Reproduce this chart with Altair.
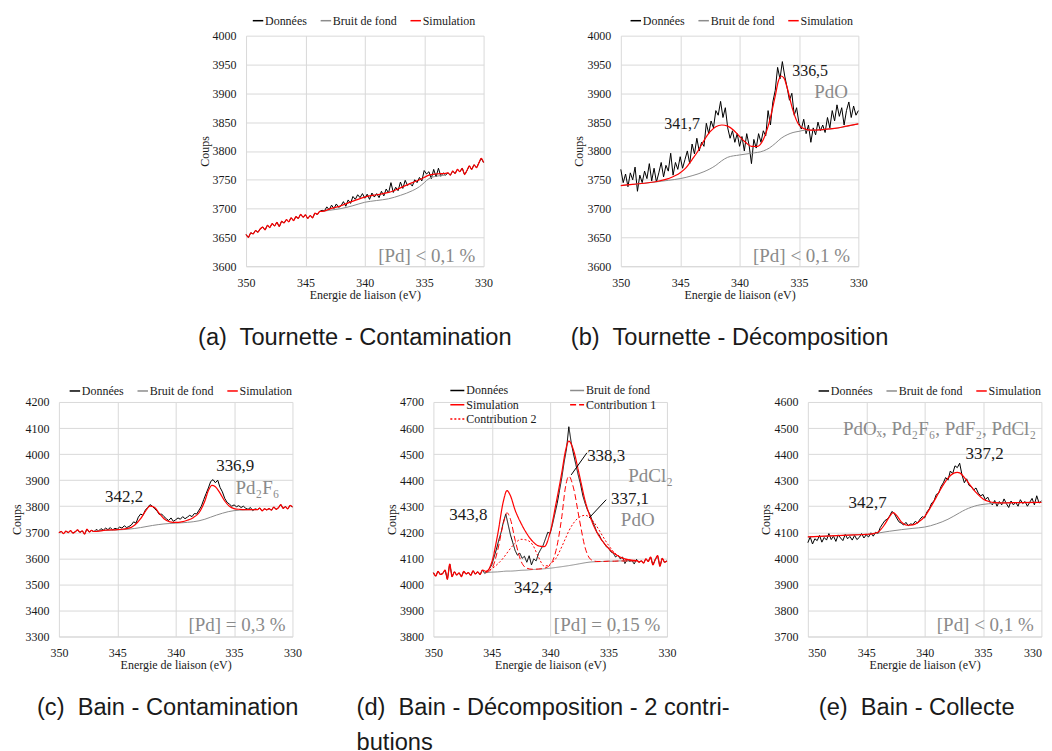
import altair as alt
import pandas as pd

SERIF = "Liberation Serif"
SANS = "Liberation Sans"
INK = "#1a1a1a"
GREY_TEXT = "#8a8a8a"
GRID = "#d9d9d9"

SERIES = ["Données", "Bruit de fond", "Simulation"]
SERIES_COLORS = ["#000000", "#8c8c8c", "#ff0000"]
SERIES_D = ["Données", "Bruit de fond", "Simulation", "Contribution 1", "Contribution 2"]
SERIES_D_COLORS = ["#000000", "#8c8c8c", "#ff0000", "#ff0000", "#ff0000"]
SERIES_D_DASH = [[1, 0], [1, 0], [1, 0], [6, 3], [2, 2]]

# measured spectra sampled from 350 eV down to 330 eV (0.2 eV steps)
ENERGY = [round(350 - 0.2 * i, 1) for i in range(101)]
X_TICKS = [350, 345, 340, 335, 330]

# ---------------- (a) Tournette - Contamination ----------------
A_DATA = [3655, 3650, 3658, 3656, 3662, 3659, 3665, 3668, 3663, 3671,
          3667, 3674, 3670, 3676, 3669, 3678, 3675, 3681, 3677, 3684,
          3679, 3686, 3683, 3690, 3685, 3689, 3683, 3688, 3684, 3692,
          3690, 3695, 3697, 3696, 3703, 3698, 3706, 3700, 3708, 3702,
          3705, 3712, 3704, 3715, 3709, 3721, 3716, 3724, 3719, 3726,
          3718, 3725, 3716, 3727, 3720, 3726, 3719, 3730, 3722, 3734,
          3727, 3745, 3728, 3737, 3731, 3746, 3735, 3749, 3740, 3744,
          3739, 3750, 3745, 3754, 3748, 3766, 3760, 3764, 3752, 3768,
          3755, 3770, 3756, 3762, 3758, 3762, 3758, 3765, 3761, 3768,
          3764, 3770, 3759, 3766, 3774, 3768, 3776, 3771, 3779, 3787,
          3780]
A_FIT = (343.6, 333.2)
A_SIM_E = [343.6, 343, 342, 341, 340, 339, 338, 337, 336, 335.4, 335, 334.6, 334, 333.2]
A_SIM = [3695, 3699, 3705, 3713, 3720, 3724, 3728, 3736, 3745, 3750, 3754, 3758, 3760, 3761]
A_BG_E = [343.6, 343, 342, 341, 340, 339, 338, 337, 336, 335.4, 335, 334.6, 334, 333.2]
A_BG = [3695, 3697, 3700, 3705, 3711, 3714, 3717, 3723, 3731, 3738, 3745, 3752, 3756, 3758]
A_PEAK_T, A_PEAK_E, A_PEAK_C = [], [], []
A_SPEC_T, A_SPEC_E, A_SPEC_C = [], [], []
A_CONC_T, A_CONC_E, A_CONC_C = ["[Pd] < 0,1 %"], [330.7], [3618]

# ---------------- (b) Tournette - Décomposition ----------------
B_DATA = [3768, 3745, 3760, 3738, 3762, 3750, 3772, 3730, 3758, 3745,
          3765, 3752, 3778, 3748, 3770, 3746, 3762, 3780, 3755, 3775,
          3765, 3796, 3758, 3780, 3768, 3790, 3770, 3785, 3800, 3778,
          3812, 3795, 3822, 3800, 3815, 3808, 3848, 3830, 3852, 3840,
          3870, 3862, 3886, 3858, 3875, 3840, 3822, 3835, 3815, 3830,
          3808, 3825, 3800, 3830, 3810, 3778, 3820, 3805, 3830, 3815,
          3835, 3826, 3870, 3845, 3885, 3905, 3945, 3925, 3955, 3930,
          3910, 3888, 3900, 3862, 3875, 3848, 3838, 3855, 3830, 3845,
          3815, 3840, 3828, 3850, 3835, 3845, 3832, 3858, 3840, 3870,
          3852, 3880, 3860, 3875, 3845, 3870, 3885, 3858, 3878, 3862,
          3870]
B_SIM_E = [350, 349, 348, 347, 346, 345, 344.5, 344, 343.5, 343, 342.5, 342, 341.5, 341,
           340.5, 340, 339.5, 339, 338.5, 338, 337.5, 337, 336.75, 336.5, 336.25, 336,
           335.5, 335, 334.5, 334, 333, 332, 331, 330]
B_SIM = [3740, 3742, 3744, 3747, 3752, 3762, 3771, 3785, 3800, 3818, 3833, 3842, 3845, 3843,
         3836, 3825, 3815, 3808, 3808, 3820, 3850, 3895, 3920, 3930, 3926, 3910,
         3870, 3845, 3838, 3836, 3837, 3839, 3843, 3847]
B_BG_E = [350, 348, 346, 345, 344, 343, 342, 341.5, 341, 340, 339, 338, 337.5, 337, 336.5,
          336, 335.5, 335, 334.5, 334, 332, 330]
B_BG = [3740, 3744, 3749, 3752, 3757, 3764, 3775, 3783, 3789, 3793, 3796, 3800, 3805, 3813, 3822,
        3828, 3832, 3834, 3836, 3836, 3839, 3847]
B_PEAK_T, B_PEAK_E, B_PEAK_C = ["341,7", "336,5"], [344.84, 334.06], [3847, 3938]
B_SPEC_T, B_SPEC_E, B_SPEC_C = ["PdO"], [332.3], [3902]
B_CONC_T, B_CONC_E, B_CONC_C = ["[Pd] < 0,1 %"], [330.7], [3618]

# ---------------- (c) Bain - Contamination ----------------
C_DATA = [3698, 3703, 3695, 3704, 3699, 3706, 3697, 3702, 3709, 3700,
          3705, 3693, 3712, 3701, 3707, 3702, 3711, 3705, 3714, 3708,
          3716, 3710, 3718, 3709, 3715, 3712, 3720, 3716, 3725, 3718,
          3722, 3728, 3740, 3735, 3758, 3770, 3765, 3785, 3795, 3806,
          3800, 3790, 3782, 3768, 3770, 3760, 3752, 3745, 3755, 3742,
          3748, 3755, 3750, 3760, 3752, 3758, 3765, 3760, 3772, 3770,
          3785, 3800, 3825, 3848, 3870, 3895, 3902, 3890, 3900, 3872,
          3855, 3830, 3815, 3808, 3800, 3805, 3798, 3802, 3795, 3800,
          3792, 3788, 3795, 3783, 3790, 3787, 3793, 3782, 3790, 3786,
          3791, 3785, 3797, 3788, 3794, 3806, 3792, 3798, 3790, 3803,
          3797]
C_FIT = (347.0, 333.0)
C_SIM_E = [347, 346, 345, 344, 343.5, 343, 342.6, 342.2, 341.8, 341.4, 341, 340.5, 340, 339.5,
           339, 338.5, 338, 337.5, 337.2, 336.9, 336.6, 336.2, 335.8, 335.4, 335, 334.5, 334, 333]
C_SIM = [3703, 3708, 3710, 3716, 3728, 3752, 3780, 3800, 3795, 3772, 3752, 3740, 3738, 3740,
         3746, 3756, 3775, 3820, 3860, 3880, 3875, 3850, 3820, 3800, 3791, 3788, 3787, 3787]
C_BG_E = [347, 346, 345, 344, 343, 342, 341, 340, 339, 338, 337.5, 337, 336.5, 336, 335.5, 335, 334, 333]
C_BG = [3705, 3707, 3709, 3712, 3718, 3726, 3732, 3735, 3738, 3744, 3750, 3758, 3766, 3773, 3779,
        3783, 3786, 3787]
C_PEAK_T, C_PEAK_E, C_PEAK_C = ["342,2", "336,9"], [344.42, 334.9], [3836, 3954]
C_SPEC_T, C_SPEC_E, C_SPEC_C = ["Pd₂F₆"], [333.0], [3868]
C_CONC_T, C_CONC_E, C_CONC_C = ["[Pd] = 0,3 %"], [330.6], [3345]

# ---------------- (d) Bain - Décomposition - 2 contributions ----------------
D_DATA = [4045, 4032, 4050, 4038, 4042, 4055, 4020, 4078, 4030, 4048,
          4036, 4044, 4030, 4050, 4040, 4045, 4035, 4052, 4040, 4048,
          4038, 4055, 4042, 4050, 4060, 4075, 4105, 4135, 4170, 4200,
          4240, 4270, 4230, 4190, 4160, 4130, 4112, 4120, 4100, 4108,
          4085, 4110, 4075, 4098, 4090, 4118, 4135, 4150, 4175, 4200,
          4195, 4230, 4270, 4310, 4360, 4410, 4470, 4520, 4605, 4545,
          4500, 4460, 4420, 4385, 4340, 4310, 4285, 4270, 4245, 4225,
          4200, 4190, 4170, 4160, 4145, 4140, 4125, 4120, 4105, 4112,
          4098, 4105, 4080, 4095, 4088, 4092, 4078, 4096, 4085, 4090,
          4082, 4098, 4088, 4105, 4075, 4095, 4110, 4070, 4100, 4085,
          4090]
D_FIT = (345.6, 332.6)
D_E = [345.5, 345, 344.5, 344, 343.7, 343.4, 343, 342.5, 342, 341.5,
       341, 340.5, 340, 339.5, 339, 338.7, 338.4, 338, 337.5, 337,
       336.5, 336, 335.5, 335, 334.5, 334, 333.5, 333, 332.5]
D_SIM = [4050, 4085, 4190, 4320, 4360, 4340, 4285, 4235, 4195, 4165,
         4148, 4145, 4200, 4310, 4430, 4510, 4550, 4515, 4420, 4320,
         4250, 4200, 4165, 4138, 4118, 4105, 4097, 4093, 4090]
D_BG = [4045, 4047, 4048, 4050, 4051, 4051, 4052, 4054, 4055, 4057,
        4058, 4060, 4062, 4065, 4068, 4070, 4072, 4075, 4079, 4083,
        4086, 4087, 4088, 4089, 4089, 4090, 4090, 4090, 4090]
D_C1 = [4046, 4060, 4130, 4235, 4275, 4250, 4170, 4090, 4062, 4058,
        4059, 4062, 4075, 4130, 4260, 4370, 4415, 4370, 4250, 4140,
        4095, 4088, 4088, 4089, 4089, 4090, 4090, 4090, 4090]
D_C2 = [4050, 4060, 4078, 4102, 4120, 4138, 4158, 4173, 4170, 4152,
        4105, 4070, 4078, 4100, 4145, 4175, 4205, 4235, 4258, 4265,
        4252, 4222, 4185, 4150, 4122, 4105, 4095, 4091, 4090]
D_PEAK_T = ["343,8", "342,4", "338,3", "337,1"]
D_PEAK_E = [347.0, 341.46, 335.2, 333.16]
D_PEAK_C = [4267, 3986, 4491, 4327]
D_SPEC_T, D_SPEC_E, D_SPEC_C = ["PdCl₂", "PdO"], [331.4, 332.5], [4414, 4248]
D_CONC_T, D_CONC_E, D_CONC_C = ["[Pd] = 0,15 %"], [330.56], [3845]
# leader lines: label end -> curve end
D_LEAD_E = [336.85, 335.2]
D_LEAD_C = [4505, 4325]
D_LEAD_E2 = [338.2, 336.66]
D_LEAD_C2 = [4420, 4255]

# ---------------- (e) Bain - Collecte ----------------
E_DATA = [4060, 4082, 4055, 4075, 4068, 4088, 4062, 4080, 4070, 4095,
          4072, 4085, 4065, 4090, 4078, 4068, 4092, 4075, 4084, 4070,
          4088, 4072, 4080, 4095, 4078, 4090, 4082, 4098, 4085, 4100,
          4095, 4118, 4132, 4145, 4150, 4162, 4180, 4172, 4155, 4140,
          4135, 4128, 4138, 4125, 4132, 4130, 4142, 4135, 4150, 4160,
          4155, 4178, 4190, 4212, 4220, 4245, 4250, 4275, 4290, 4310,
          4300, 4335, 4325, 4355, 4348, 4365, 4320, 4290, 4305, 4280,
          4275, 4262, 4270, 4250, 4240, 4245, 4225, 4235, 4215, 4205,
          4222, 4200, 4218, 4205, 4228, 4210, 4195, 4220, 4205, 4215,
          4200, 4225, 4210, 4218, 4200, 4215, 4230, 4205, 4240, 4212,
          4220]
E_SIM_E = [350, 348, 346, 345, 344.5, 344, 343.5, 343, 342.7, 342.4,
           342, 341.5, 341, 340.5, 340, 339.5, 339, 338.5, 338, 337.5,
           337.2, 337, 336.5, 336, 335.5, 335, 334.5, 334, 333, 332, 330]
E_SIM = [4082, 4086, 4090, 4092, 4094, 4100, 4125, 4160, 4175, 4165,
         4140, 4127, 4128, 4140, 4160, 4195, 4235, 4275, 4308, 4327,
         4330, 4328, 4305, 4275, 4248, 4228, 4218, 4214, 4213, 4214, 4215]
E_BG_E = [350, 348, 346, 344.5, 344, 343, 342, 341, 340, 339.5,
          339, 338.5, 338, 337.5, 337, 336.5, 336, 335.5, 335, 334, 333, 330]
E_BG = [4082, 4086, 4090, 4094, 4097, 4104, 4110, 4115, 4120, 4125,
        4132, 4140, 4150, 4162, 4175, 4187, 4196, 4203, 4207, 4211, 4213, 4215]
E_PEAK_T, E_PEAK_E, E_PEAK_C = ["342,7", "337,2"], [344.88, 334.87], [4212, 4401]
E_SPEC_T, E_SPEC_E, E_SPEC_C = ["PdOₓ, Pd₂F₆, PdF₂, PdCl₂"], [347.0], [4495]
E_CONC_T, E_CONC_E, E_CONC_C = ["[Pd] < 0,1 %"], [330.65], [3746]


def line_df(name, energies, counts):
    return pd.DataFrame({"E": list(energies), "C": list(counts), "s": name})


def sim_with_data(data, fit, sim_e, sim_c):
    if fit is None:
        return list(sim_e), list(sim_c)
    hi, lo = fit
    left = [(e, c) for e, c in zip(ENERGY, data) if e > hi]
    right = [(e, c) for e, c in zip(ENERGY, data) if e < lo]
    pts = left + list(zip(sim_e, sim_c)) + right
    return [p[0] for p in pts], [p[1] for p in pts]


def panel(data, fit, sim_e, sim_c, bg_e, bg_c, ydom, ystep, peaks, specs, conc,
          legend_xy, caption, cap_dx, width, height, peak_size,
          contribs=None, leaders=None, spec_align="center", cap_anchor="middle", flush=False):
    X = alt.X("E:Q",
              scale=alt.Scale(domain=[330, 350], reverse=True, nice=False, zero=False),
              axis=alt.Axis(values=X_TICKS, format="d", title="Energie de liaison (eV)",
                            grid=True, gridColor=GRID, gridWidth=1, ticks=False,
                            domain=True, domainColor=GRID, labelFlush=flush,
                            labelFont=SERIF, labelFontSize=12, labelColor=INK, labelPadding=11,
                            titleFont=SERIF, titleFontSize=12, titleFontWeight="normal",
                            titleColor=INK, titlePadding=1))
    yvals = list(range(ydom[0], ydom[1] + 1, ystep))
    Y = alt.Y("C:Q",
              scale=alt.Scale(domain=list(ydom), nice=False, zero=False),
              axis=alt.Axis(values=yvals, format="d", title="Coups",
                            grid=True, gridColor=GRID, gridWidth=1, ticks=False,
                            domain=False, labelFlush=False,
                            labelFont=SERIF, labelFontSize=12, labelColor=INK, labelPadding=10,
                            titleFont=SERIF, titleFontSize=12, titleFontWeight="normal",
                            titleColor=INK, titlePadding=1))
    series = SERIES_D if contribs else SERIES
    colors = SERIES_D_COLORS if contribs else SERIES_COLORS
    leg_kwargs = dict(title=None, orient="none", legendX=legend_xy[0], legendY=legend_xy[1],
                      direction="horizontal", symbolType="stroke", symbolSize=110,
                      symbolStrokeWidth=1.5, labelFont=SERIF, labelFontSize=12,
                      labelColor=INK, labelOffset=1, padding=0, rowPadding=2.3,
                      columnPadding=10)
    if contribs:
        leg_kwargs.update(columns=2, columnPadding=30, symbolSize=196, rowPadding=0.3)
    legend = alt.Legend(**leg_kwargs)
    enc = dict(x=X, y=Y, color=alt.Color("s:N", scale=alt.Scale(domain=series, range=colors), legend=legend))
    if contribs:
        enc["strokeDash"] = alt.StrokeDash("s:N", scale=alt.Scale(domain=series, range=SERIES_D_DASH), legend=legend)

    se, sc = sim_with_data(data, fit, sim_e, sim_c)
    layers = [
        alt.Chart(line_df("Données", ENERGY, data)).mark_line(strokeWidth=1).encode(**enc),
        alt.Chart(line_df("Bruit de fond", bg_e, bg_c)).mark_line(strokeWidth=1, interpolate="monotone").encode(**enc),
        alt.Chart(line_df("Simulation", se, sc)).mark_line(strokeWidth=1.2, interpolate="monotone").encode(**enc),
    ]
    if contribs:
        for name, (ce, cc) in contribs.items():
            layers.append(alt.Chart(line_df(name, ce, cc)).mark_line(strokeWidth=1, interpolate="monotone").encode(**enc))
    if leaders:
        ldf = pd.DataFrame({"E": leaders[0], "C": leaders[1], "E2": leaders[2], "C2": leaders[3]})
        layers.append(alt.Chart(ldf).mark_rule(color="#000000", strokeWidth=1).encode(
            x=X, x2="E2:Q", y=Y, y2="C2:Q"))

    def txt(t, e, c, size, color, align):
        df = pd.DataFrame({"E": e, "C": c, "t": t})
        return alt.Chart(df).mark_text(font=SERIF, fontSize=size, color=color, align=align,
                                       baseline="middle").encode(x=X, y=Y, text="t:N")
    if peaks[0]:
        layers.append(txt(*peaks, peak_size, INK, "center"))
    if specs[0]:
        layers.append(txt(*specs, 19, GREY_TEXT, spec_align))
    layers.append(txt(*conc, 19, GREY_TEXT, "right"))

    title_kwargs = dict(text=caption, orient="bottom", anchor=cap_anchor, frame="group", dx=cap_dx,
                        offset=26, font=SANS, fontSize=23.7, fontWeight="normal", color=INK)
    if isinstance(caption, list):
        title_kwargs["lineHeight"] = 35
    return alt.layer(*layers).properties(width=width, height=height,
                                         title=alt.TitleParams(**title_kwargs))


pa = panel(A_DATA, A_FIT, A_SIM_E, A_SIM, A_BG_E, A_BG, (3600, 4000), 50,
           (A_PEAK_T, A_PEAK_E, A_PEAK_C), (A_SPEC_T, A_SPEC_E, A_SPEC_C), (A_CONC_T, A_CONC_E, A_CONC_C),
           (6, -21), "(a)\u00a0 Tournette - Contamination", -10, 238, 231, 16)
pb = panel(B_DATA, None, B_SIM_E, B_SIM, B_BG_E, B_BG, (3600, 4000), 50,
           (B_PEAK_T, B_PEAK_E, B_PEAK_C), (B_SPEC_T, B_SPEC_E, B_SPEC_C), (B_CONC_T, B_CONC_E, B_CONC_C),
           (9, -21), "(b)\u00a0 Tournette - Décomposition", -10, 238, 231, 16)
pc = panel(C_DATA, C_FIT, C_SIM_E, C_SIM, C_BG_E, C_BG, (3300, 4200), 100,
           (C_PEAK_T, C_PEAK_E, C_PEAK_C), (C_SPEC_T, C_SPEC_E, C_SPEC_C), (C_CONC_T, C_CONC_E, C_CONC_C),
           (10, -17), "(c)\u00a0 Bain - Contamination", -8, 234, 235, 17)
pd_ = panel(D_DATA, D_FIT, D_E, D_SIM, D_E, D_BG, (3800, 4700), 100,
            (D_PEAK_T, D_PEAK_E, D_PEAK_C), (D_SPEC_T, D_SPEC_E, D_SPEC_C), (D_CONC_T, D_CONC_E, D_CONC_C),
            (16, -19.5), ["(d)\u00a0 Bain - Décomposition - 2 contri-", "butions"], -77, 234, 235, 17,
            contribs={"Contribution 1": (D_E, D_C1), "Contribution 2": (D_E, D_C2)},
            leaders=(D_LEAD_E, D_LEAD_C, D_LEAD_E2, D_LEAD_C2),
            cap_anchor="start")
pe = panel(E_DATA, None, E_SIM_E, E_SIM, E_BG_E, E_BG, (3700, 4600), 100,
           (E_PEAK_T, E_PEAK_E, E_PEAK_C), (E_SPEC_T, E_SPEC_E, E_SPEC_C), (E_CONC_T, E_CONC_E, E_CONC_C),
           (10, -17), "(e)\u00a0 Bain - Collecte", -8, 234, 235, 17, spec_align="left", flush=True)

spacer = alt.Chart(pd.DataFrame({"E": [0], "C": [0]})).mark_point(opacity=0).encode(
    x=alt.X("E:Q", axis=None), y=alt.Y("C:Q", axis=None)).properties(width=49.5, height=231)

RES = dict(x="independent", y="independent", color="independent", strokeDash="independent")
LEG = dict(color="independent", strokeDash="independent")

top = alt.hconcat(spacer, pa, pb, spacing=137.5, bounds="flush").resolve_scale(**RES).resolve_legend(**LEG)
bottom = alt.hconcat(pc, pd_, pe, spacing=141.2, bounds="flush").resolve_scale(**RES).resolve_legend(**LEG)

# the flush top row counts as zero height, so the spacing includes its plot height
chart = (alt.vconcat(top, bottom, spacing=367, bounds="flush")
         .resolve_scale(**RES).resolve_legend(**LEG)
         .properties(padding={"left": 3, "top": 6, "right": 0, "bottom": 0}, background="white")
         .configure_view(strokeWidth=0))

chart.save("out.html", embed_options={"renderer": "svg", "actions": False})
